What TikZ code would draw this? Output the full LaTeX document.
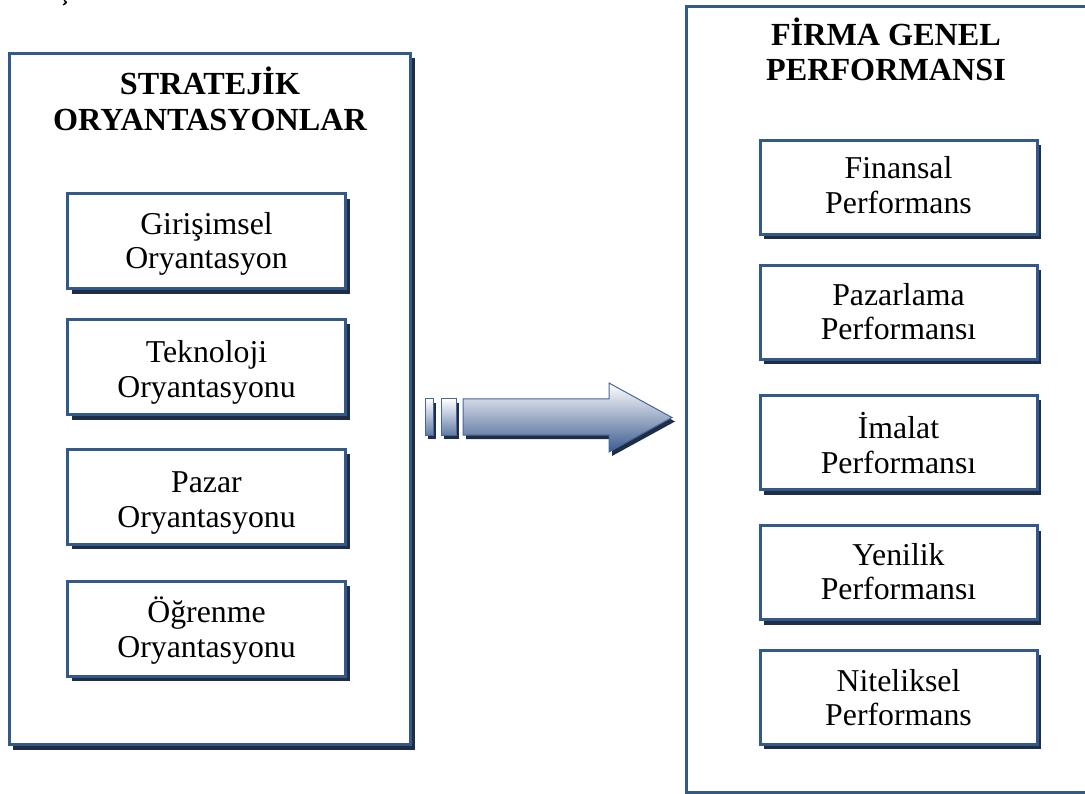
\documentclass[tikz,border=0pt]{standalone}
\usepackage{fontspec}
\setmainfont{Liberation Serif}
\usetikzlibrary{shadows}

\definecolor{boxblue}{HTML}{33598B}
\definecolor{shadownavy}{HTML}{1F2E44}
\definecolor{arrowedge}{HTML}{44689A}
\definecolor{arrowdark}{HTML}{3C5B8F}

% two centred lines with equal struts, so the line pitch is fixed
\newcommand\twolines[2]{#1\strut\\#2\strut}

\begin{document}
\begin{tikzpicture}[x=1pt,y=-1pt,
  panel/.style={draw=boxblue, line width=3pt, fill=white, inner sep=0pt,
    drop shadow={shadow xshift=4pt, shadow yshift=-5pt, fill=shadownavy, opacity=1}},
  leftitem/.style={panel, minimum width=278pt, minimum height=95pt},
  rightitem/.style={panel, minimum width=277pt, minimum height=94pt},
  itemtext/.style={align=center, inner sep=0pt, font=\fontsize{31.8}{34.5}\selectfont},
  heading/.style={align=center, inner sep=0pt, font=\fontsize{32.2}{35.5}\selectfont\bfseries},
  arrowshadow/.style={fill=shadownavy, shift={(3,4)}},
  arrowbody/.style={draw=arrowedge, line width=1pt, top color=white, bottom color=arrowdark},
]
\useasboundingbox (0,0) rectangle (1085,794);

% tail of a glyph from the line above, cut by the top edge
\fill (64.5,0) .. controls (68,1) and (68,4) .. (63,5.5) -- (62.8,4.6)
  .. controls (65.5,3.6) and (65.6,1.6) .. (63.6,0) -- cycle;

% outer panels
\node[panel, minimum width=401.5pt, minimum height=691pt] (strat) at (209.75,399) {};
\node[panel, minimum width=404pt, minimum height=785pt] (perf) at (888,399.5) {};

% headings
\node[heading] (stratT) at (210,104) {\twolines{STRATEJİK}{ORYANTASYONLAR}};
\node[heading] (perfT) at (886,54.5) {\twolines{FİRMA GENEL}{PERFORMANSI}};

% strategic orientations
\node[leftitem] (gir) at (206.5,241.5) {};
\node[leftitem] (tek) at (206.5,367) {};
\node[leftitem] (paz) at (206.5,496.5) {};
\node[leftitem] (ogr) at (206.5,628.5) {};
\node[itemtext] (girT) at ([yshift=-3pt]gir.center) {\twolines{Girişimsel}{Oryantasyon}};
\node[itemtext] (tekT) at ([yshift=-6pt]tek.center) {\twolines{Teknoloji}{Oryantasyonu}};
\node[itemtext] (pazT) at ([yshift=-6.5pt]paz.center) {\twolines{Pazar}{Oryantasyonu}};
\node[itemtext] (ogrT) at ([yshift=-4pt]ogr.center) {\twolines{Öğrenme}{Oryantasyonu}};

% performance dimensions
\node[rightitem] (fin) at (898.5,187.5) {};
\node[rightitem] (mkt) at (898.5,312.5) {};
\node[rightitem] (ima) at (898.5,442.5) {};
\node[rightitem] (yen) at (898.5,572.5) {};
\node[rightitem] (nit) at (898.5,697) {};
\node[itemtext] (finT) at ([yshift=-1.8pt]fin.center) {\twolines{Finansal}{Performans}};
\node[itemtext] (mktT) at ([yshift=-3pt]mkt.center) {\twolines{Pazarlama}{Performansı}};
\node[itemtext] (imaT) at ([yshift=-5.5pt]ima.center) {\twolines{İmalat}{Performansı}};
\node[itemtext] (yenT) at ([yshift=-3pt]yen.center) {\twolines{Yenilik}{Performansı}};
\node[itemtext] (nitT) at ([yshift=-4.5pt]nit.center) {\twolines{Niteliksel}{Performans}};

% block arrow with two trailing bars
\fill[arrowshadow] (425,399) rectangle (433,435);
\fill[arrowshadow] (441,399) rectangle (456,435);
\fill[arrowshadow] (463,399) -- (609,399) -- (609,383) -- (672,417.5)
  -- (609,452) -- (609,435) -- (463,435) -- cycle;
\shadedraw[arrowbody, bottom color=arrowdark!80!white] (425,399) rectangle (433,435);
\shadedraw[arrowbody, bottom color=arrowdark!80!white] (441,399) rectangle (456,435);
\shadedraw[arrowbody] (463,399) -- (609,399) -- (609,383) -- (672,417.5)
  -- (609,452) -- (609,435) -- (463,435) -- cycle;
\end{tikzpicture}
\end{document}
